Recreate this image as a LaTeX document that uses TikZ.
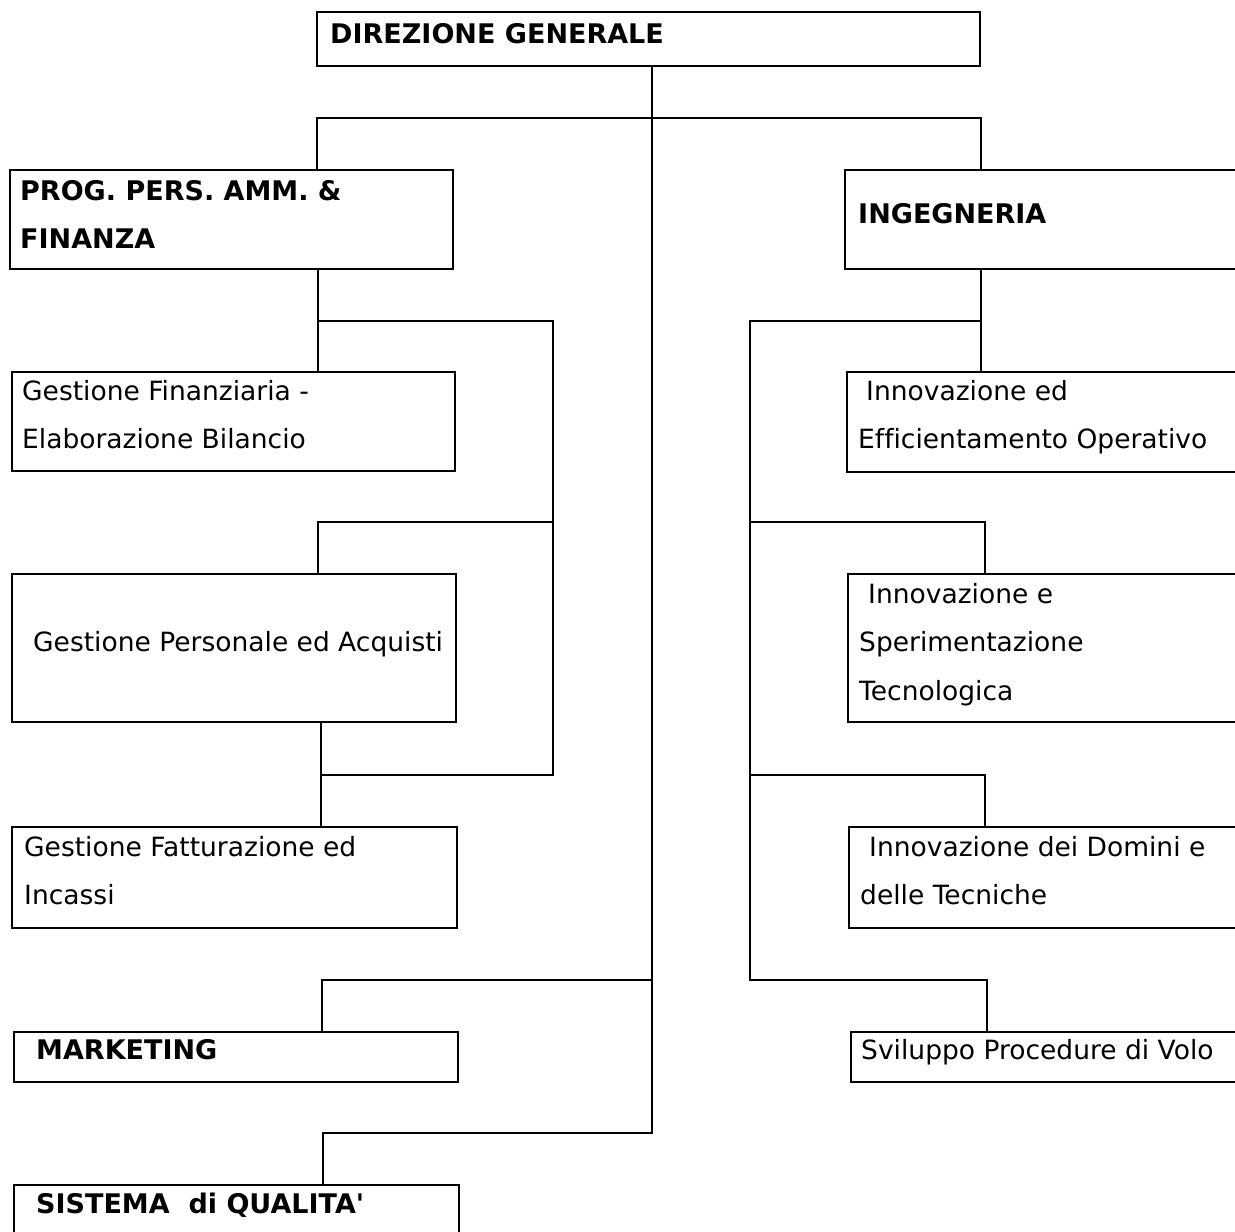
\documentclass[tikz,border=0pt]{standalone}
\usepackage{fontspec}
\setmainfont{DejaVu Sans}[Ligatures=NoCommon]
\begin{document}
\tikzset{
  box/.style={draw, line width=2.7pt, inner sep=0pt, outer sep=0pt, anchor=north west},
  lbl/.style={anchor=base west, inner sep=0pt, font=\fontsize{26.5}{30}\selectfont},
  blbl/.style={anchor=base west, inner sep=0pt, font=\fontsize{27}{30}\selectfont\bfseries},
  mainc/.style={line width=2.5pt},
  subc/.style={line width=1.4pt},
}
\begin{tikzpicture}[x=1pt,y=-1pt]
\clip (0,0) rectangle (1235,1232);
\fill[white] (0,0) rectangle (1235,1232);

% boxes
\node[box, minimum width=663, minimum height=54] (dg) at (317,12) {};
\node[box, minimum width=443, minimum height=99] (prog) at (10,170) {};
\node[box, minimum width=420, minimum height=99] (ing) at (845,170) {};
\node[box, minimum width=443, minimum height=99] (gf) at (12,372) {};
\node[box, minimum width=444, minimum height=148] (gp) at (12,574) {};
\node[box, minimum width=445, minimum height=101] (gfi) at (12,827) {};
\node[box, minimum width=444, minimum height=50] (mkt) at (14,1032) {};
\node[box, minimum width=445, minimum height=80] (sq) at (14,1185) {};
\node[box, minimum width=420, minimum height=100] (ie) at (847,372) {};
\node[box, minimum width=420, minimum height=148] (is) at (848,574) {};
\node[box, minimum width=420, minimum height=101] (id) at (849,827) {};
\node[box, minimum width=420, minimum height=50] (sv) at (851,1032) {};

% texts
\node[blbl] (tdg) at (330,43) {DIREZIONE GENERALE};
\node[blbl] (tprog1) at (20,200) {PROG. PERS. AMM. \&};
\node[blbl] (tprog2) at (20,248) {FINANZA};
\node[blbl] (ting) at (858,223) {INGEGNERIA};
\node[lbl] (tgf1) at (22,400) {Gestione Finanziaria -};
\node[lbl] (tgf2) at (22,448) {Elaborazione Bilancio};
\node[lbl] (tgp) at (33,651) {Gestione Personale ed Acquisti};
\node[lbl] (tgfi1) at (24,856) {Gestione Fatturazione ed};
\node[lbl] (tgfi2) at (24,904) {Incassi};
\node[blbl] (tmkt) at (36,1059) {MARKETING};
\node[blbl] (tsq) at (36,1213) {SISTEMA\ \ di QUALITA\textquotesingle};
\node[lbl] (tie1) at (866,400) {Innovazione ed};
\node[lbl] (tie2) at (858,448) {Efficientamento Operativo};
\node[lbl] (tis1) at (868,603) {Innovazione e};
\node[lbl] (tis2) at (859,651) {Sperimentazione};
\node[lbl] (tis3) at (859,700) {Tecnologica};
\node[lbl] (tid1) at (869,856) {Innovazione dei Domini e};
\node[lbl] (tid2) at (860,904) {delle Tecniche};
\node[lbl] (tsv) at (861,1059) {Sviluppo Procedure di Volo};

% main connectors
\draw[mainc] (652,0 |- dg.south) -- (652,1133) -- (323,1133) -- (323,0 |- sq.north);
\draw[mainc] (652,980) -- (322,980) -- (322,0 |- mkt.north);
\draw[mainc] (317,0 |- prog.north) -- (317,118) -- (981,118) -- (981,0 |- ing.north);

% left sub connectors
\draw[subc] (318,0 |- prog.south) -- (318,0 |- gf.north);
\draw[subc] (318,321) -- (553,321) -- (553,775) -- (321,775);
\draw[subc] (553,522) -- (318,522) -- (318,0 |- gp.north);
\draw[subc] (321,0 |- gp.south) -- (321,0 |- gfi.north);

% right sub connectors
\draw[subc] (981,0 |- ing.south) -- (981,0 |- ie.north);
\draw[subc] (981,321) -- (750,321) -- (750,980) -- (987,980) -- (987,0 |- sv.north);
\draw[subc] (750,522) -- (985,522) -- (985,0 |- is.north);
\draw[subc] (750,775) -- (985,775) -- (985,0 |- id.north);
\end{tikzpicture}
\end{document}
